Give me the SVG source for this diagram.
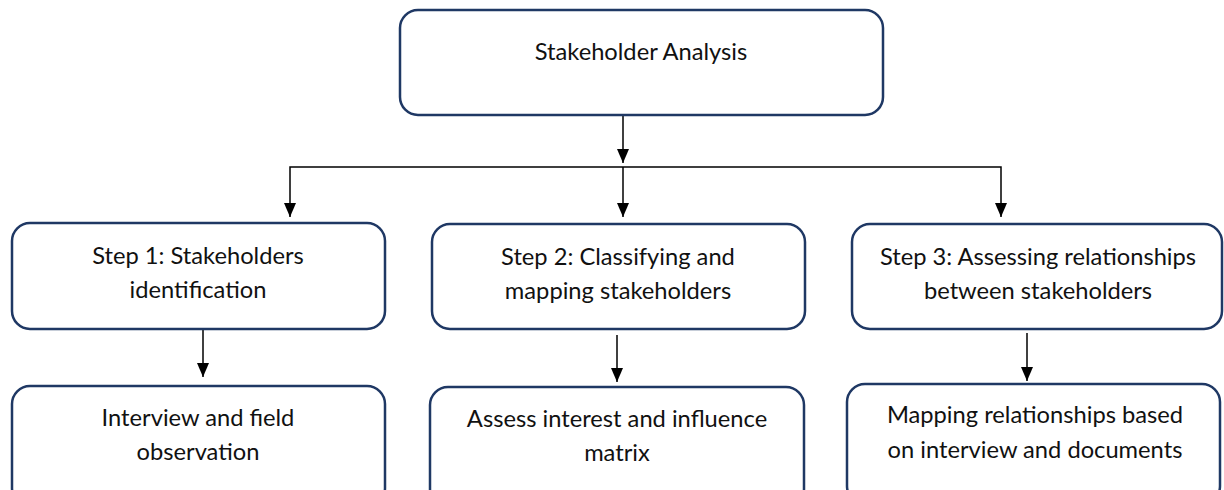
<svg xmlns="http://www.w3.org/2000/svg" width="1224" height="490" viewBox="0 0 1224 490">
  <style>
    .box { fill: #ffffff; stroke: #1f3864; stroke-width: 2.5; }
    .lbl { font-family: Lato, "Open Sans", sans-serif; font-size: 23.7px; fill: #111111; text-anchor: middle; }
    .conn { stroke: #000000; stroke-width: 1.5; fill: none; }
    .head { fill: #000000; }
  </style>
  <rect width="1224" height="490" fill="#ffffff"/>

  <g id="connectors">
    <!-- main box down to the distribution bar -->
    <path class="conn" d="M623,116 V163"/>
    <path class="head" d="M617,149 L629,149 L623,163 Z"/>
    <!-- distribution bar and drops to the three steps -->
    <path class="conn" d="M290,217 V167 H1001 V217"/>
    <path class="conn" d="M623,167 V217"/>
    <path class="head" d="M284,203 L296,203 L290,217 Z"/>
    <path class="head" d="M617,203 L629,203 L623,217 Z"/>
    <path class="head" d="M995,203 L1007,203 L1001,217 Z"/>
    <!-- steps down to their methods -->
    <path class="conn" d="M203,330 V377"/>
    <path class="head" d="M197,363 L209,363 L203,377 Z"/>
    <path class="conn" d="M617,335 V382"/>
    <path class="head" d="M611,368 L623,368 L617,382 Z"/>
    <path class="conn" d="M1027,333 V381"/>
    <path class="head" d="M1021,367 L1033,367 L1027,381 Z"/>
  </g>

  <g id="stakeholder-analysis">
    <rect class="box" x="400" y="10" width="483" height="105" rx="18"/>
    <text class="lbl" x="641" y="60">Stakeholder Analysis</text>
  </g>

  <g id="step1">
    <rect class="box" x="12" y="223" width="373" height="106" rx="18"/>
    <text class="lbl" x="198" y="264">Step 1: Stakeholders</text>
    <text class="lbl" x="198" y="298">identification</text>
  </g>

  <g id="step2">
    <rect class="box" x="432" y="224" width="373" height="105" rx="18"/>
    <text class="lbl" x="618" y="265">Step 2: Classifying and</text>
    <text class="lbl" x="618" y="299">mapping stakeholders</text>
  </g>

  <g id="step3">
    <rect class="box" x="852" y="224" width="370" height="105" rx="18"/>
    <text class="lbl" x="1038" y="265">Step 3: Assessing relationships</text>
    <text class="lbl" x="1038" y="299">between stakeholders</text>
  </g>

  <g id="interview-observation">
    <rect class="box" x="12" y="386" width="373" height="120" rx="18"/>
    <text class="lbl" x="198" y="426">Interview and field</text>
    <text class="lbl" x="198" y="460">observation</text>
  </g>

  <g id="interest-influence">
    <rect class="box" x="430" y="387" width="374" height="120" rx="18"/>
    <text class="lbl" x="617" y="427">Assess interest and influence</text>
    <text class="lbl" x="617" y="461">matrix</text>
  </g>

  <g id="relationship-mapping">
    <rect class="box" x="847" y="384" width="373" height="120" rx="18"/>
    <text class="lbl" x="1035" y="423">Mapping relationships based</text>
    <text class="lbl" x="1035" y="458">on interview and documents</text>
  </g>
</svg>
